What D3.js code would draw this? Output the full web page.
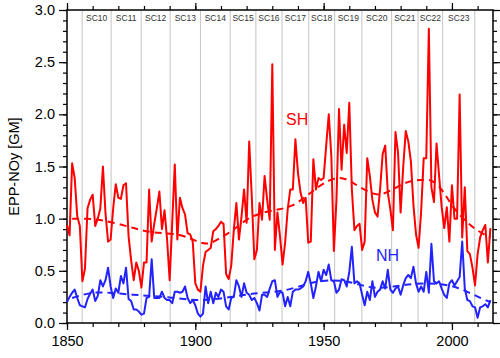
<!DOCTYPE html>
<html>
<head>
<meta charset="utf-8">
<script src="https://cdn.jsdelivr.net/npm/d3@7"></script>
<style>
  body { margin: 0; background: #fff; }
  svg { font-family: "Liberation Sans", Arial, sans-serif; }
</style>
</head>
<body>
<script>
// annual values from 1850 on
const startYear = 1850;
const sh = [0.94, 0.84, 1.53, 1.39, 1.02, 0.93, 0.40, 0.52, 1.10, 1.18,
  1.23, 0.93, 1.00, 1.10, 1.50, 1.05, 0.78, 0.80, 1.10, 1.33,
  1.20, 1.19, 1.32, 1.34, 0.83, 0.60, 0.41, 0.58, 0.50, 0.34,
  0.58, 0.58, 1.28, 0.78, 0.95, 1.10, 1.26, 0.90, 1.08, 0.80,
  0.41, 0.96, 1.52, 0.80, 1.20, 1.10, 1.04, 0.86, 0.85, 0.78,
  0.38, 0.32, 0.30, 0.55, 0.68, 0.70, 0.72, 0.88, 0.90, 0.93,
  0.97, 0.95, 0.47, 0.42, 0.55, 0.89, 1.15, 0.80, 1.02, 1.28,
  0.96, 1.74, 1.21, 0.61, 0.70, 1.15, 0.99, 1.41, 1.18, 0.99,
  2.48, 0.70, 1.06, 0.83, 0.56, 0.77, 1.09, 1.28, 1.28, 1.76,
  1.44, 1.25, 1.15, 1.20, 0.77, 0.78, 1.57, 1.28, 1.39, 1.37,
  1.39, 1.70, 2.00, 1.60, 0.69, 1.18, 2.05, 1.47, 1.90, 1.63,
  2.11, 1.28, 0.89, 0.93, 0.95, 0.70, 0.78, 1.58, 1.41, 1.18,
  1.06, 1.02, 1.28, 1.62, 1.70, 1.25, 1.09, 0.89, 1.83, 1.63,
  1.06, 1.49, 1.84, 1.74, 1.55, 1.13, 0.85, 0.72, 1.07, 1.58,
  1.58, 2.82, 1.30, 1.16, 1.72, 1.41, 1.11, 0.91, 1.11, 0.78,
  1.32, 1.00, 1.00, 2.19, 0.82, 1.30, 0.69, 0.66, 0.53, 0.36,
  0.66, 0.82, 0.89, 0.94, 0.58, 0.91];
const nh = [0.20, 0.25, 0.29, 0.32, 0.24, 0.17, 0.16, 0.15, 0.23, 0.28,
  0.32, 0.21, 0.26, 0.41, 0.35, 0.41, 0.53, 0.35, 0.24, 0.33,
  0.29, 0.45, 0.38, 0.53, 0.23, 0.21, 0.13, 0.13, 0.11, 0.08,
  0.09, 0.24, 0.25, 0.61, 0.24, 0.24, 0.24, 0.30, 0.24, 0.22,
  0.22, 0.19, 0.30, 0.30, 0.29, 0.30, 0.35, 0.24, 0.19, 0.22,
  0.17, 0.09, 0.06, 0.09, 0.35, 0.19, 0.30, 0.19, 0.29, 0.25,
  0.32, 0.30, 0.16, 0.13, 0.24, 0.25, 0.41, 0.35, 0.25, 0.38,
  0.29, 0.27, 0.22, 0.24, 0.19, 0.12, 0.27, 0.27, 0.25, 0.33,
  0.40, 0.41, 0.25, 0.30, 0.29, 0.16, 0.25, 0.16, 0.30, 0.32,
  0.32, 0.33, 0.35, 0.40, 0.49, 0.38, 0.24, 0.35, 0.49, 0.40,
  0.51, 0.46, 0.56, 0.41, 0.40, 0.29, 0.32, 0.42, 0.41, 0.35,
  0.49, 0.73, 0.38, 0.40, 0.38, 0.27, 0.17, 0.30, 0.22, 0.40,
  0.25, 0.30, 0.32, 0.40, 0.33, 0.51, 0.32, 0.29, 0.33, 0.35,
  0.27, 0.36, 0.43, 0.46, 0.43, 0.54, 0.38, 0.30, 0.35, 0.30,
  0.49, 0.29, 0.76, 0.40, 0.38, 0.40, 0.33, 0.27, 0.24, 0.38,
  0.41, 0.36, 0.40, 0.44, 0.78, 0.33, 0.22, 0.21, 0.16, 0.15,
  0.05, 0.15, 0.16, 0.18, 0.15, 0.22];

// smoothed trends, [year, value]
const shTrend = [[1852, 1.00], [1858, 1.00], [1863, 0.99], [1870, 0.95], [1876, 0.91],
  [1882, 0.87], [1888, 0.86], [1894, 0.85], [1899, 0.80], [1903, 0.76], [1906, 0.76],
  [1910, 0.82], [1915, 0.89], [1920, 1.00], [1926, 1.06], [1933, 1.09], [1938, 1.12],
  [1943, 1.21], [1947, 1.29], [1952, 1.37], [1956, 1.40], [1960, 1.37], [1964, 1.30],
  [1969, 1.24], [1972, 1.22], [1977, 1.28], [1982, 1.35], [1986, 1.37], [1991, 1.38],
  [1994, 1.34], [1997, 1.25], [2000, 1.12], [2005, 0.98], [2010, 0.88], [2015, 0.82]];
const nhTrend = [[1852, 0.24], [1860, 0.30], [1867, 0.29], [1876, 0.27], [1883, 0.26],
  [1892, 0.24], [1899, 0.22], [1904, 0.22], [1912, 0.24], [1919, 0.27], [1925, 0.29],
  [1934, 0.30], [1943, 0.37], [1949, 0.41], [1958, 0.41], [1965, 0.36], [1970, 0.33],
  [1978, 0.35], [1985, 0.38], [1995, 0.38], [2001, 0.35], [2006, 0.30], [2012, 0.23],
  [2015, 0.20]];

// solar cycle minima and names
const cycleStarts = [1855.9, 1867.2, 1878.9, 1890.2, 1902.0, 1913.6, 1923.6, 1933.8,
  1944.2, 1954.3, 1964.9, 1976.5, 1986.8, 1996.4, 2008.9];
const cycleNames = ['SC10', 'SC11', 'SC12', 'SC13', 'SC14', 'SC15', 'SC16', 'SC17',
  'SC18', 'SC19', 'SC20', 'SC21', 'SC22', 'SC23'];

const xMajor = [1850, 1900, 1950, 2000];
const yMajor = [0, 0.5, 1.0, 1.5, 2.0, 2.5, 3.0];

const width = 500, height = 358;
const plotLeft = 67, plotRight = 493, plotTop = 10, plotBottom = 323;

const svg = d3.select('body').append('svg')
    .attr('width', width)
    .attr('height', height);

const x = d3.scaleLinear().domain([1850, 2016]).range([plotLeft, plotRight]);
const y = d3.scaleLinear().domain([0, 3]).range([plotBottom, plotTop]);

// cycle boundaries
svg.append('g')
    .selectAll('line')
    .data(cycleStarts)
    .enter().append('line')
    .attr('x1', d => x(d)).attr('x2', d => x(d))
    .attr('y1', plotTop).attr('y2', plotBottom)
    .attr('stroke', '#c4c4c4')
    .attr('stroke-width', 1);

svg.append('g')
    .selectAll('text')
    .data(cycleNames)
    .enter().append('text')
    .attr('x', (d, i) => x((cycleStarts[i] + cycleStarts[i + 1]) / 2))
    .attr('y', 21)
    .attr('text-anchor', 'middle')
    .attr('font-size', 8.5)
    .attr('fill', '#333')
    .text(d => d);

const minorYears = d3.range(1850, 2016, 10);
const minorVals = d3.range(0, 31).map(d => d / 10);

// axes
svg.append('g').attr('transform', `translate(0,${plotBottom})`)
    .call(d3.axisBottom(x).tickValues(minorYears).tickSize(4).tickFormat(''));
svg.append('g').attr('transform', `translate(0,${plotBottom})`)
    .call(d3.axisBottom(x).tickValues(xMajor).tickSize(7).tickPadding(6).tickFormat(d3.format('d')));
svg.append('g').attr('transform', `translate(0,${plotTop})`)
    .call(d3.axisTop(x).tickValues(minorYears).tickSize(4).tickFormat(''));
svg.append('g').attr('transform', `translate(0,${plotTop})`)
    .call(d3.axisTop(x).tickValues(xMajor).tickSize(7).tickFormat(''));
svg.append('g').attr('transform', `translate(${plotLeft},0)`)
    .call(d3.axisLeft(y).tickValues(minorVals).tickSize(4).tickFormat(''));
svg.append('g').attr('transform', `translate(${plotLeft},0)`)
    .call(d3.axisLeft(y).tickValues(yMajor).tickSize(8).tickPadding(4).tickFormat(d3.format('.1f')));
svg.append('g').attr('transform', `translate(${plotRight},0)`)
    .call(d3.axisRight(y).tickValues(minorVals).tickSize(4).tickFormat(''));
svg.append('g').attr('transform', `translate(${plotRight},0)`)
    .call(d3.axisRight(y).tickValues(yMajor).tickSize(8).tickFormat(''));

svg.selectAll('.domain').remove();
svg.selectAll('.tick line').attr('stroke', '#000').attr('stroke-width', 1.2);
svg.selectAll('.tick text').attr('font-size', 14.5).attr('fill', '#000')
    .attr('font-family', '"Liberation Sans", Arial, sans-serif');

svg.append('rect')
    .attr('x', plotLeft).attr('y', plotTop)
    .attr('width', plotRight - plotLeft).attr('height', plotBottom - plotTop)
    .attr('fill', 'none')
    .attr('stroke', '#000')
    .attr('stroke-width', 1.5);

// series
const line = d3.line()
    .x((d, i) => x(startYear + i))
    .y(d => y(d));
const trendLine = d3.line()
    .x(d => x(d[0]))
    .y(d => y(d[1]))
    .curve(d3.curveBasis);

const red = '#ff0000', blue = '#2323ff';

svg.append('path').datum(shTrend).attr('d', trendLine)
    .attr('fill', 'none').attr('stroke', red).attr('stroke-width', 2)
    .attr('stroke-dasharray', '7,5');
svg.append('path').datum(nhTrend).attr('d', trendLine)
    .attr('fill', 'none').attr('stroke', blue).attr('stroke-width', 2)
    .attr('stroke-dasharray', '7,5');

svg.append('path').datum(sh).attr('d', line)
    .attr('fill', 'none').attr('stroke', red).attr('stroke-width', 2)
    .attr('stroke-linejoin', 'round');
svg.append('path').datum(nh).attr('d', line)
    .attr('fill', 'none').attr('stroke', blue).attr('stroke-width', 2)
    .attr('stroke-linejoin', 'round');

svg.append('text')
    .attr('x', 286).attr('y', 125)
    .attr('font-size', 16).attr('fill', red)
    .text('SH');
svg.append('text')
    .attr('x', 376).attr('y', 261)
    .attr('font-size', 16).attr('fill', blue)
    .text('NH');

svg.append('text')
    .attr('transform', `translate(19,${(plotTop + plotBottom) / 2}) rotate(-90)`)
    .attr('text-anchor', 'middle')
    .attr('font-size', 14.5)
    .text('EPP-NOy [GM]');
</script>
</body>
</html>
